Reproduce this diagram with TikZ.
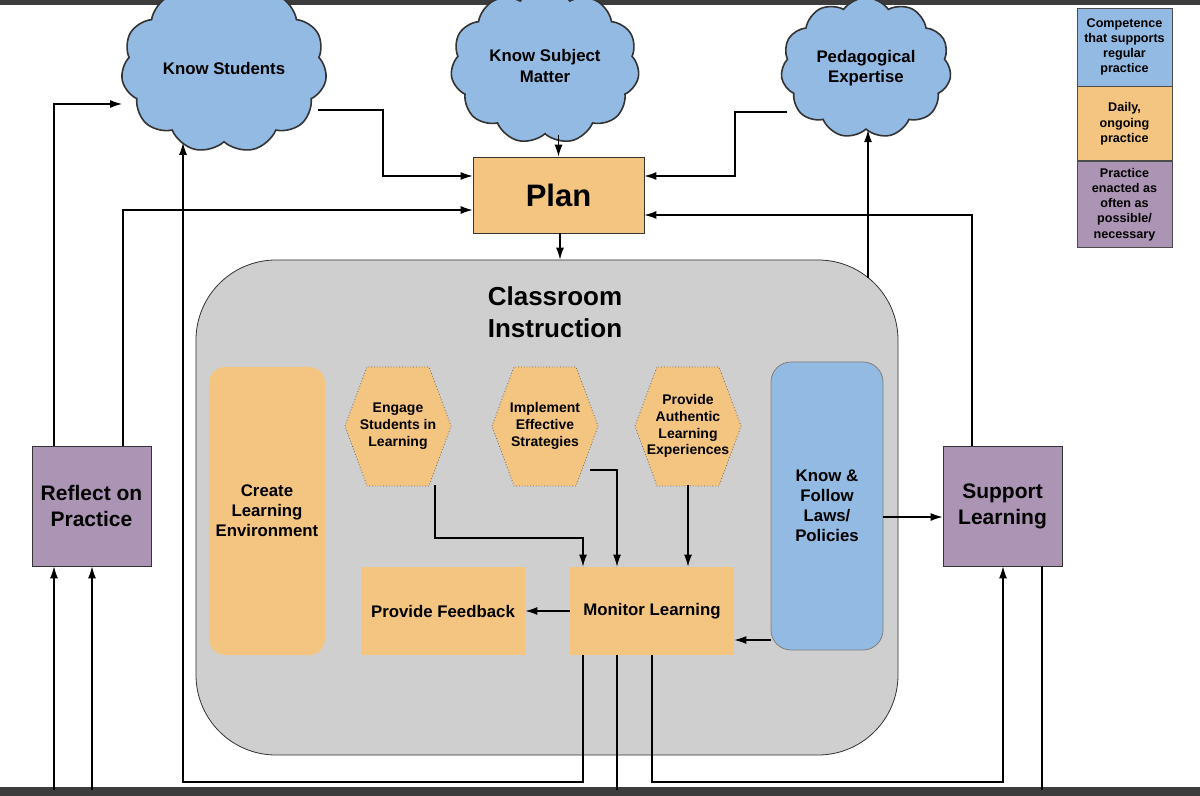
\documentclass[tikz,border=0pt]{standalone}
\usepackage{fontspec}
\setmainfont{Liberation Sans}
\usetikzlibrary{shapes.symbols,arrows.meta}
\definecolor{cblue}{RGB}{146,186,226}
\definecolor{corange}{RGB}{244,197,129}
\definecolor{cpurple}{RGB}{172,148,180}
\definecolor{cgray}{RGB}{207,207,207}
\definecolor{cbar}{RGB}{60,60,60}
\tikzset{
 lbl/.style={font=\bfseries\fontsize{8.4}{10}\selectfont, align=center, text=black},
 smalllbl/.style={font=\bfseries\fontsize{7}{8.4}\selectfont, align=center},
 cloudn/.style={cloud, cloud puffs=11, cloud puff arc=110, aspect=1.3, draw=black!80, fill=cblue, thick, lbl},
 box/.style={fill=corange, draw=none},
 conn/.style={-{Latex[length=6pt,width=4pt]}, line width=0.6pt},
 line/.style={line width=0.6pt},
}
\begin{document}
\begin{tikzpicture}[x=0.5pt,y=-0.5pt]
\useasboundingbox (0,0) rectangle (1200,796);
\fill[cbar] (0,0) rectangle (1200,5);
\fill[cbar] (0,787) rectangle (1200,796);
% clouds
\node[cloudn, minimum width=76pt, minimum height=58pt] (ks) at (224,68) {Know Students};
\node[cloudn, minimum width=70pt, minimum height=57pt] (ksm) at (545,66) {Know Subject\\Matter};
\node[cloudn, minimum width=76pt, minimum height=58pt] (pe) at (866,68) {Pedagogical\\Expertise};
% legend
\node[draw=black!70, fill=cblue, minimum width=47.5pt, minimum height=39pt, font=\bfseries\fontsize{6.3}{7.6}\selectfont, align=center] (l1) at (1124.5,47) {Competence\\that supports\\regular\\practice};
\node[draw=black!70, fill=corange, minimum width=47.5pt, minimum height=37pt, font=\bfseries\fontsize{6.3}{7.6}\selectfont, align=center, anchor=north] (l2) at (l1.south) {Daily,\\ongoing\\practice};
\node[draw=black!70, fill=cpurple, minimum width=47.5pt, minimum height=42.5pt, font=\bfseries\fontsize{6.3}{7.6}\selectfont, align=center, anchor=north] (l3) at (l2.south) {Practice\\enacted as\\often as\\possible/\\necessary};
% plan
\node[draw=black!80, fill=corange, minimum width=85.5pt, minimum height=38pt, font=\bfseries\fontsize{15.5}{18}\selectfont] (plan) at (558.5,195) {Plan};
% classroom
\node[draw=black!80, fill=cgray, rounded corners=40pt, minimum width=351pt, minimum height=247.5pt] (cls) at (547,507.5) {};
\node[font=\bfseries\fontsize{13}{16}\selectfont, align=center] (clt) at (555,312) {Classroom\\Instruction};
% inner
\node[box, rounded corners=8pt, minimum width=55pt, minimum height=144pt, lbl] (cle) at (267,511) {Create\\Learning\\Environment};
\node[fill=cblue, draw=black!50, rounded corners=10pt, minimum width=56pt, minimum height=144pt, lbl] (kf) at (827,506) {Know \&\\Follow\\Laws/\\Policies};
\node[box, minimum width=82pt, minimum height=44pt, lbl] (pf) at (443,611) {Provide Feedback};
\node[box, minimum width=82pt, minimum height=44pt, lbl] (ml) at (652,611) {Monitor Learning};
% hexagons
\foreach \cx/\nm in {398/eng,545/imp,688/pal}{
 \fill[corange] (\cx-53,426) -- (\cx-31,367) -- (\cx+31,367) -- (\cx+53,426) -- (\cx+31,486) -- (\cx-31,486) -- cycle;
 \draw[black!60, densely dotted] (\cx-53,426) -- (\cx-31,367) -- (\cx+31,367) -- (\cx+53,426) -- (\cx+31,486) -- (\cx-31,486) -- cycle;
}
\node[smalllbl, minimum width=53pt, minimum height=59pt] (eng) at (398,426) {Engage\\Students in\\Learning};
\node[smalllbl, minimum width=55pt, minimum height=59pt] (imp) at (545,426) {Implement\\Effective\\Strategies};
\node[smalllbl, minimum width=60pt, minimum height=59pt] (pal) at (688,426) {Provide\\Authentic\\Learning\\Experiences};
% purple
\node[fill=cpurple, draw=black!80, minimum width=59.5pt, minimum height=60pt, font=\bfseries\fontsize{10.5}{13}\selectfont, align=center] (rp) at (91.5,506) {Reflect on\\Practice};
\node[fill=cpurple, draw=black!80, minimum width=59.5pt, minimum height=60pt, font=\bfseries\fontsize{10.5}{13}\selectfont, align=center] (sl) at (1002.5,506) {Support\\Learning};
% bottom coordinates
\coordinate (b1) at (54,790); \coordinate (b2) at (92,790);
\coordinate (b3) at (617,790); \coordinate (b4) at (1042,790);
% connectors
\draw[conn] (ks.east |- 0,110) ++(-8,0) -| (383,176) -- (plan.west |- 0,176);
\draw[conn] (ksm.south -| plan.north) -- (plan.north);
\draw[conn] (pe.west |- 0,112) ++(6,0) -| (735,176) -- (plan.east |- 0,176);
\draw[conn] (rp.north -| 123,0) |- (plan.west |- 0,210);
\draw[conn] (rp.north -| 54,0) |- (ks.west |- 0,104);
\draw[conn] (plan.south -| 560,0) -- (cls.north -| 560,0);
\draw[conn] (868,278) -- (pe.south -| 868,0);
\draw[conn] (sl.north -| 972,0) |- (plan.east |- 0,215);
\draw[conn] (kf.east |- 0,517) -- (sl.west |- 0,517);
\draw[conn] (eng.south -| 435,0) |- (583,538) -- (ml.north -| 583,0);
\draw[conn] (590,470) -| (ml.north -| 617,0);
\draw[conn] (pal.south) -- (ml.north -| 688,0);
\draw[conn] (ml.west) -- (pf.east);
\draw[conn] (kf.south west |- 0,640) -- (ml.east |- 0,640);
\draw[conn] (ml.south -| 583,0) |- (183,782) -- (ks.south -| 183,0);
\draw[line] (ml.south -| 617,0) -- (b3);
\draw[conn] (ml.south -| 652,0) |- (1003,782) -- (sl.south -| 1003,0);
\draw[conn] (b1) -- (rp.south -| b1);
\draw[conn] (b2) -- (rp.south -| b2);
\draw[line] (sl.south -| b4) -- (b4);
\end{tikzpicture}
\end{document}
